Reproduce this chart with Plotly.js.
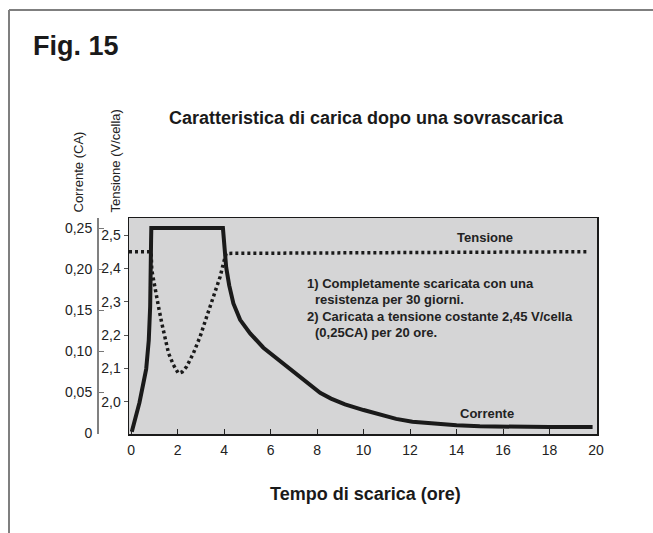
<!DOCTYPE html>
<html>
<head>
<meta charset="utf-8">
<script src="https://cdn.plot.ly/plotly-3.0.1.min.js"></script>
<style>html,body{margin:0;padding:0;background:#fff;}#chart{width:653px;height:533px;}</style>
</head>
<body>
<div id="chart"></div>
<script>
// ---- data ----
const timeCurrent = [0.03, 0.17, 0.36, 0.53, 0.65, 0.76, 0.82, 0.86, 0.87, 3.95, 4.01, 4.09, 4.22, 4.40, 4.69, 5.12, 5.69, 6.55, 7.41, 8.13, 8.6, 9.2, 10.0, 10.7, 11.4, 12.1, 13.0, 14.0, 15.0, 16.0, 17.0, 18.0, 19.85];
const current     = [0.0016, 0.016, 0.037, 0.061, 0.078, 0.113, 0.154, 0.235, 0.25, 0.25, 0.233, 0.202, 0.180, 0.158, 0.138, 0.1215, 0.104, 0.085, 0.065, 0.049, 0.042, 0.035, 0.028, 0.022, 0.0172, 0.0138, 0.0112, 0.0094, 0.0082, 0.0076, 0.0073, 0.0072, 0.0072];
const timeVoltage = [-0.09, 0.86, 0.89, 1.03, 1.18, 1.32, 1.46, 1.61, 1.82, 2.03, 2.2, 2.39, 2.68, 2.97, 3.25, 3.54, 3.83, 3.97, 4.09, 19.6];
const voltage     = [2.45, 2.45, 2.395, 2.335, 2.285, 2.236, 2.186, 2.146, 2.111, 2.086, 2.09, 2.106, 2.146, 2.196, 2.255, 2.315, 2.375, 2.415, 2.445, 2.45];

const xTickVals = [0, 2, 4, 6, 8, 10, 12, 14, 16, 18, 20];
const xTickText = ['0', '2', '4', '6', '8', '10', '12', '14', '16', '18', '20'];
const vTickVals = [2.0, 2.1, 2.2, 2.3, 2.4, 2.5];
const vTickText = ['2,0', '2,1', '2,2', '2,3', '2,4', '2,5'];
const cTickVals = [0, 0.05, 0.10, 0.15, 0.20, 0.25];
const cTickText = ['0', '0,05', '0,10', '0,15', '0,20', '0,25'];

const figLabel = 'Fig. 15';
const chartTitle = 'Caratteristica di carica dopo una sovrascarica';
const xTitle = 'Tempo di scarica (ore)';
const currentTitle = 'Corrente (CA)';
const voltageTitle = 'Tensione (V/cella)';
const voltageLabel = 'Tensione';
const currentLabel = 'Corrente';
const noteLines = ['1) Completamente scaricata con una', 'resistenza per 30 giorni.', '2) Caricata a tensione costante 2,45 V/cella', '(0,25CA) per 20 ore.'];

// ---- layout helpers (pixel -> paper) ----
const ML = 60, MR = 56, MT = 218, MB = 99, W = 653, H = 533;
const PW = W - ML - MR, PH = H - MT - MB;
const px2x = px => (px - ML) / PW;
const py2y = py => (H - MB - py) / PH;

const sans = 'Liberation Sans, Arial, Helvetica, sans-serif';

const traces = [
  {x: timeVoltage, y: voltage, type: 'scatter', mode: 'lines', yaxis: 'y', xaxis: 'x',
   line: {color: '#1a1a1a', width: 3.5, dash: '3px,3px'}, hoverinfo: 'skip'},
  {x: timeCurrent, y: current, type: 'scatter', mode: 'lines', yaxis: 'y2', xaxis: 'x',
   line: {color: '#1a1a1a', width: 4}, hoverinfo: 'skip'}
];

const noteY = [283, 299.5, 316, 332];
const noteX = [305, 313, 305, 313];

const annotations = [
  {text: '<b>' + figLabel + '</b>', xref: 'paper', yref: 'paper', x: px2x(31), y: py2y(46), xanchor: 'left', yanchor: 'middle', showarrow: false, font: {family: sans, size: 27, color: '#1a1a1a'}},
  {text: currentTitle, xref: 'paper', yref: 'paper', x: px2x(78), y: py2y(215), xanchor: 'center', yanchor: 'bottom', textangle: -90, showarrow: false, font: {family: sans, size: 13, color: '#222'}},
  {text: voltageTitle, xref: 'paper', yref: 'paper', x: px2x(115), y: py2y(215), xanchor: 'center', yanchor: 'bottom', textangle: -90, showarrow: false, font: {family: sans, size: 13, color: '#222'}},
  {text: '<b>' + voltageLabel + '</b>', xref: 'paper', yref: 'paper', x: px2x(485), y: py2y(237), xanchor: 'center', yanchor: 'middle', showarrow: false, font: {family: sans, size: 13, color: '#222'}},
  {text: '<b>' + currentLabel + '</b>', xref: 'paper', yref: 'paper', x: px2x(487), y: py2y(413), xanchor: 'center', yanchor: 'middle', showarrow: false, font: {family: sans, size: 13, color: '#222'}},
  {text: '<b>' + xTitle + '</b>', xref: 'paper', yref: 'paper', x: px2x(365), y: py2y(494), xanchor: 'center', yanchor: 'middle', showarrow: false, font: {family: sans, size: 18, color: '#1a1a1a'}}
];
noteLines.forEach((t, i) => annotations.push({
  text: '<b>' + t + '</b>', xref: 'paper', yref: 'paper', x: px2x(noteX[i]), y: py2y(noteY[i]),
  xanchor: 'left', yanchor: 'middle', showarrow: false, font: {family: sans, size: 13, color: '#222'}
}));

const layout = {
  width: W, height: H,
  margin: {l: ML, r: MR, t: MT, b: MB, pad: 0},
  paper_bgcolor: '#ffffff',
  plot_bgcolor: '#d5d5d6',
  showlegend: false,
  title: {text: '<b>' + chartTitle + '</b>', xref: 'container', yref: 'container', x: 366 / W, y: 1 - 118 / H, xanchor: 'center', yanchor: 'middle', font: {family: sans, size: 18, color: '#1a1a1a'}},
  xaxis: {
    domain: [px2x(129), 1], range: [-0.09, 20.04], tickvals: xTickVals, ticktext: xTickText,
    ticks: 'inside', ticklen: 5, tickcolor: '#222', tickwidth: 1,
    showline: true, mirror: true, linecolor: '#1a1a1a', linewidth: 1.5,
    showgrid: false, zeroline: false, tickfont: {family: sans, size: 14, color: '#222'}, ticklabelstandoff: 3
  },
  yaxis: {
    range: [1.904, 2.551], tickvals: vTickVals, ticktext: vTickText,
    ticks: 'outside', ticklen: 4, tickcolor: '#555', tickwidth: 1,
    showline: true, mirror: true, linecolor: '#1a1a1a', linewidth: 1.5,
    showgrid: false, zeroline: false, tickfont: {family: sans, size: 14, color: '#222'}
  },
  yaxis2: {
    overlaying: 'y', anchor: 'free', position: px2x(97), side: 'left',
    range: [-0.0012, 0.2622], tickvals: cTickVals, ticktext: cTickText,
    ticks: 'inside', ticklen: 5, tickcolor: '#777', tickwidth: 1,
    showline: true, linecolor: '#808080', linewidth: 1.5,
    showgrid: false, zeroline: false, tickfont: {family: sans, size: 14, color: '#222'}, ticklabelstandoff: 2
  },
  shapes: [
    {type: 'line', xref: 'paper', yref: 'paper', x0: px2x(9), x1: px2x(9), y0: py2y(10), y1: py2y(540), line: {color: '#7f7f7f', width: 2}},
    {type: 'line', xref: 'paper', yref: 'paper', x0: px2x(9), x1: px2x(660), y0: py2y(10), y1: py2y(10), line: {color: '#7f7f7f', width: 2}}
  ],
  annotations: annotations
};

Plotly.newPlot('chart', traces, layout, {staticPlot: true, displayModeBar: false});
</script>
</body>
</html>
